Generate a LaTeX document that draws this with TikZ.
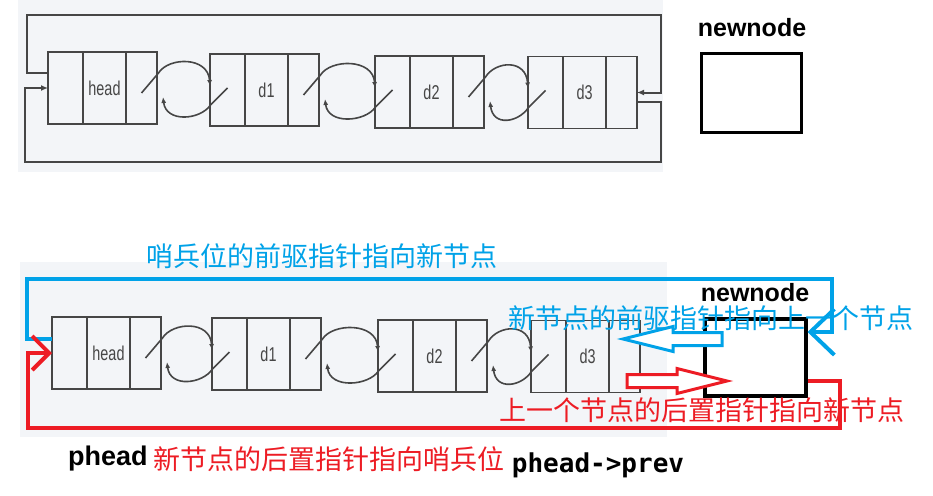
\documentclass[tikz,border=0pt]{standalone}
\usepackage{fontspec}
\setmainfont{Liberation Sans}
\newfontfamily\cjkfont{Noto Sans CJK SC}
\newfontfamily\codefont{DejaVu Sans Mono}
\usetikzlibrary{positioning,arrows.meta,calc}
\definecolor{PanelGrey}{RGB}{243,245,248}
\definecolor{LineGrey}{RGB}{70,70,70}
\definecolor{PaintBlue}{RGB}{0,162,232}
\definecolor{PaintRed}{RGB}{237,28,36}
\newcommand\slim[1]{\scalebox{0.72}[1]{#1}}
\tikzset{
  cell/.style={draw=LineGrey,line width=1.8pt,fill=PanelGrey,minimum height=72pt,
    inner sep=0pt,outer sep=0pt,text=LineGrey,font=\fontsize{20}{20}\selectfont},
  ptr/.style={-{Latex[length=6pt,width=5pt]},line width=1.6pt,draw=LineGrey},
  ring/.style={-{Latex[length=7pt,width=6pt]},line width=2pt,draw=LineGrey},
  newbox/.style={draw=black,line width=3.5pt,fill=white,inner sep=0pt},
  title/.style={font=\bfseries\fontsize{25}{25}\selectfont,inner sep=0pt},
  bluepath/.style={draw=PaintBlue,line width=4pt,-{Straight Barb[length=24pt,width=46pt]}},
  redpath/.style={draw=PaintRed,line width=4pt,-{Straight Barb[length=17pt,width=34pt]}},
  hollow/.style={line width=3pt,line join=miter,fill=white},
  bluetext/.style={text=PaintBlue,font=\cjkfont\fontsize{27}{27}\selectfont,inner sep=0pt},
  redtext/.style={text=PaintRed,font=\cjkfont\fontsize{27}{27}\selectfont,inner sep=0pt}
}
\begin{document}
\begin{tikzpicture}[x=1pt,y=-1pt]
  \useasboundingbox[fill=white] (0,0) rectangle (933,495);
  % panels
  \fill[PanelGrey] (18,0) rectangle (663,172);
  \fill[PanelGrey] (20,262) rectangle (667,437);

  % list nodes, top and bottom
  \foreach \nm/\lbl/\x/\y in {t0/head/48/88,t1/d1/210/90,t2/d2/375/92,t3/d3/528/92.5,
                              b0/head/52/353,b1/d1/212/354,b2/d2/378/356,b3/d3/531/356.5}{
    \node[cell,minimum width=35pt,anchor=west] (\nm-l) at (\x,\y) {};
    \node[cell,minimum width=43pt,right=0pt of \nm-l] (\nm-m) {\slim{\lbl}};
    \node[cell,minimum width=31pt,right=0pt of \nm-m] (\nm-r) {};
  }
  \foreach \a/\b in {t0/t1,t1/t2,t2/t3,b0/b1,b1/b2,b2/b3}{
    \draw[ptr] ([yshift=-5pt]\a-r.center) -- ++(17,-20)
      .. controls +(10,-16) and +(-2,-30) .. ([yshift=4pt]\b-l.west);
    \draw[ptr] ([yshift=2pt]\b-l.center) -- ++(-17,17)
      .. controls +(-10,15) and +(3,26) .. ([xshift=6pt,yshift=-9pt]\a-r.east);
  }

  % top ring
  \draw[ring] ([yshift=15pt]t0-l.west) -- ++(-21,0) |- (661,15) |- (t3-r.east);
  \draw[ring] ([yshift=-9pt]t3-r.east) -| (661,162) -| ([xshift=-23pt]t0-l.west) -- (t0-l.west);

  % new node, top
  \node[newbox,minimum width=100pt,minimum height=79pt] (nn1) at (751.5,93) {};
  \node[title,anchor=base] (nn1t) at (752,37) {newnode};

  % new node, bottom
  \node[newbox,line width=4pt,minimum width=101pt,minimum height=77pt] (nn2) at (755,357) {};
  \node[title,anchor=base] (nn2t) at (755,301) {newnode};

  % hollow arrows
  \coordinate (btip) at (623,339);
  \draw[hollow,draw=PaintBlue] (btip) -- ++(50,-12.5) -- ++(0,6) -- ++(49,0) -- ++(0,13)
    -- ++(-49,0) -- ++(0,6) -- cycle;
  \coordinate (rtail) at (627,374.5);
  \draw[hollow,draw=PaintRed] (rtail) -- ++(50,0) -- ++(0,-6) -- ++(50,12.5) -- ++(-50,12.5)
    -- ++(0,-6) -- ++(-50,0) -- cycle;

  % labels
  \node[bluetext] (lprev) at (322,256) {哨兵位的前驱指针指向新节点};
  \node[bluetext] (lnprev) at (711,318) {新节点的前驱指针指向上一个节点};
  \node[redtext] (lnext) at (702,410) {上一个节点的后置指针指向新节点};
  \node[title,font=\bfseries\fontsize{27}{27}\selectfont,anchor=west] (phead) at (68,459) {phead};
  \node[redtext,right=5pt of phead] (lnnext) {新节点的后置指针指向哨兵位};
  \node[font=\codefont\bfseries\fontsize{26}{26}\selectfont,inner sep=0pt] (pprev) at (598,465) {phead->prev};

  % coloured rings, bottom
  \draw[bluepath] ([yshift=14pt]b0-l.west) -- ++(-25,0) |- (832,279) |- ([yshift=25pt]nn2.east);
  \draw[redpath] ([yshift=-24pt]nn2.east) -- ++(32,0) |- (28,428) |- (b0-l.west);
\end{tikzpicture}
\end{document}
